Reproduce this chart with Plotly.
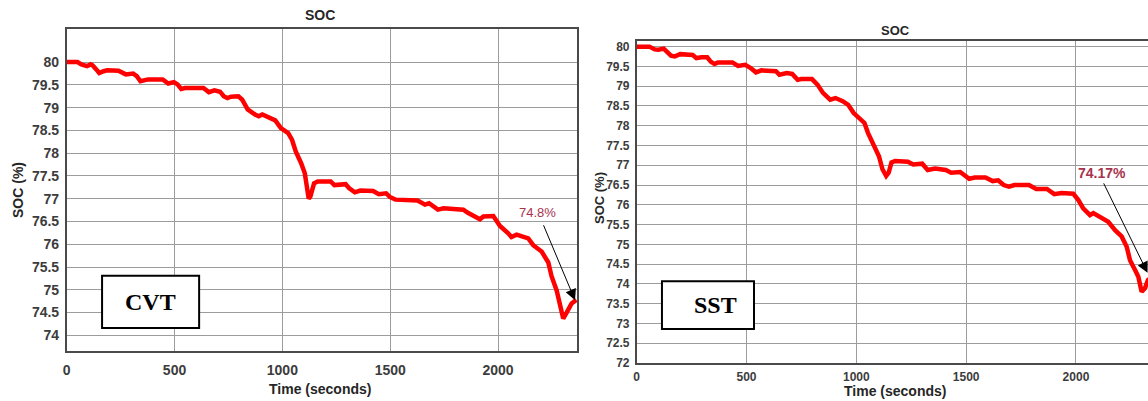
import plotly.graph_objects as go

# ---------------- data ----------------
t_cvt = [0, 50, 68, 94, 111, 120, 137, 151, 171, 188,
         240, 274, 308, 325, 342, 377, 445, 471, 497, 514,
         531, 548, 634, 659, 685, 711, 728, 745, 762, 796,
         813, 839, 873, 890, 907, 950, 967, 993, 1027, 1045,
         1062, 1087, 1104, 1122, 1130, 1147, 1164, 1224, 1241, 1293,
         1310, 1336, 1361, 1421, 1447, 1481, 1498, 1524, 1627, 1661,
         1680, 1721, 1747, 1839, 1860, 1916, 1932, 1978, 2009, 2047,
         2062, 2086, 2140, 2163, 2202, 2233, 2248, 2272, 2287, 2302,
         2318, 2341, 2363]
soc_cvt = [80.00, 80.00, 79.95, 79.91, 79.95, 79.93, 79.84, 79.76, 79.80, 79.82,
           79.81, 79.73, 79.75, 79.69, 79.58, 79.62, 79.62, 79.53, 79.56, 79.51,
           79.41, 79.43, 79.43, 79.34, 79.38, 79.35, 79.25, 79.21, 79.24, 79.25,
           79.18, 78.96, 78.85, 78.81, 78.85, 78.77, 78.72, 78.55, 78.44, 78.29,
           78.04, 77.78, 77.56, 77.00, 77.05, 77.34, 77.38, 77.38, 77.30, 77.32,
           77.23, 77.14, 77.18, 77.17, 77.10, 77.12, 77.04, 76.98, 76.96, 76.87,
           76.90, 76.76, 76.79, 76.76, 76.69, 76.55, 76.61, 76.62, 76.40, 76.24,
           76.16, 76.21, 76.13, 75.98, 75.84, 75.60, 75.30, 74.98, 74.64, 74.37,
           74.50, 74.70, 74.78]

t_sst = [0, 58, 82, 99, 123, 140, 156, 173, 198, 255,
         272, 296, 321, 337, 354, 370, 436, 461, 494, 519,
         543, 568, 634, 650, 683, 708, 733, 749, 798, 823,
         848, 881, 905, 938, 963, 988, 1012, 1037, 1053, 1078,
         1103, 1119, 1136, 1147, 1160, 1177, 1235, 1259, 1300, 1325,
         1358, 1407, 1432, 1473, 1514, 1539, 1588, 1621, 1646, 1671,
         1695, 1720, 1786, 1819, 1868, 1901, 1934, 1988, 2011, 2033,
         2064, 2079, 2109, 2147, 2178, 2208, 2231, 2246, 2269, 2284,
         2299, 2314, 2328, 2345]
soc_sst = [80.00, 80.00, 79.93, 79.92, 79.95, 79.87, 79.77, 79.75, 79.81, 79.79,
           79.71, 79.73, 79.73, 79.62, 79.56, 79.60, 79.60, 79.51, 79.54, 79.46,
           79.35, 79.40, 79.38, 79.29, 79.33, 79.31, 79.16, 79.18, 79.18, 79.04,
           78.83, 78.66, 78.70, 78.62, 78.53, 78.32, 78.20, 78.07, 77.82, 77.49,
           77.23, 76.90, 76.73, 76.81, 77.07, 77.11, 77.09, 77.02, 77.04, 76.88,
           76.92, 76.88, 76.81, 76.83, 76.66, 76.69, 76.69, 76.60, 76.62, 76.50,
           76.46, 76.50, 76.50, 76.40, 76.40, 76.27, 76.30, 76.28, 76.12, 75.91,
           75.74, 75.79, 75.70, 75.57, 75.36, 75.20, 74.94, 74.60, 74.35, 74.18,
           73.80, 73.89, 74.10, 74.17]

x_ticks = [0, 500, 1000, 1500, 2000]
y_ticks_cvt = [74 + 0.5 * i for i in range(13)]
y_ticks_sst = [72 + 0.5 * i for i in range(17)]

final_cvt_label = "74.8%"
final_sst_label = "74.17%"
panel_names = ["CVT", "SST"]
chart_title = "SOC"
x_title = "Time (seconds)"
y_title = "SOC (%)"

# ---------------- layout helpers ----------------
W, H = 1148, 401


def px(x):
    return x / W


def py(y):
    return 1 - y / H


def fmt(v):
    return ("%g" % v)


LINE_RED = "#ff0000"
GRID = "#9c9c9c"
AXIS = "#4a4a4a"
TICKC = "#3c3c3c"
LBL = "#A8324E"
SANS = "Liberation Sans, Arial"
SERIF = "Liberation Serif, Times New Roman"

fig = go.Figure()
fig.add_trace(go.Scatter(x=t_cvt, y=soc_cvt, mode="lines",
                         line=dict(color=LINE_RED, width=4.5),
                         xaxis="x", yaxis="y", showlegend=False))
fig.add_trace(go.Scatter(x=t_sst, y=soc_sst, mode="lines",
                         line=dict(color=LINE_RED, width=4.5),
                         xaxis="x2", yaxis="y2", showlegend=False))

common = dict(showline=True, linecolor=AXIS, linewidth=1.5, showgrid=True,
              gridcolor=GRID, gridwidth=1, zeroline=False, ticks="", automargin=False)

fig.update_layout(
    template="none",
    width=W, height=H, margin=dict(l=0, r=0, t=0, b=0, autoexpand=False),
    paper_bgcolor="white", plot_bgcolor="white",
    xaxis=dict(domain=[px(66.7), px(577)], range=[0, 2366],
               tickvals=x_ticks, ticktext=[fmt(v) for v in x_ticks],
               mirror=True, anchor="y", ticklabelstandoff=5,
               tickfont=dict(family=SANS, size=14, color=TICKC, weight="bold"),
               **common),
    yaxis=dict(domain=[py(351.3), py(29.3)], range=[73.65, 80.72],
               tickvals=y_ticks_cvt, ticktext=[fmt(v) for v in y_ticks_cvt],
               mirror=True, anchor="x", ticklabelstandoff=3,
               tickfont=dict(family=SANS, size=14, color=TICKC, weight="bold"),
               **common),
    xaxis2=dict(domain=[px(636.7), 1.0], range=[0, 2328],
                tickvals=x_ticks, ticktext=[fmt(v) for v in x_ticks],
                mirror=True, anchor="y2", ticklabelstandoff=2,
                tickfont=dict(family=SANS, size=12, color=TICKC, weight="bold"),
                **common),
    yaxis2=dict(domain=[py(363), py(40.7)], range=[72, 80.15],
                tickvals=y_ticks_sst, ticktext=[fmt(v) for v in y_ticks_sst],
                mirror=False, anchor="x2", ticklabelstandoff=3,
                tickfont=dict(family=SANS, size=12, color=TICKC, weight="bold"),
                **common),
)

# panel boxes
fig.add_shape(type="rect", xref="x", yref="y", x0=164, x1=614, y0=74.16, y1=75.31,
              line=dict(color="black", width=2), fillcolor="white", layer="above")
fig.add_shape(type="rect", xref="x2", yref="y2", x0=115, x1=534, y0=72.86, y1=74.07,
              line=dict(color="black", width=2), fillcolor="white", layer="above")

C = dict(xanchor="center", yanchor="middle")
ann = []
ann.append(dict(xref="x", yref="y", x=389, y=74.735, text=panel_names[0], showarrow=False,
                font=dict(family=SERIF, size=24, color="black", weight="bold"), **C))
ann.append(dict(xref="x2", yref="y2", x=361, y=73.47, text=panel_names[1], showarrow=False,
                font=dict(family=SERIF, size=24, color="black", weight="bold"), **C))

# arrows
ann.append(dict(xref="x", yref="y", axref="x", ayref="y", x=2357, y=74.77, ax=2208, ay=76.45,
                text="", showarrow=True, arrowhead=2, arrowsize=2.2, arrowwidth=1,
                arrowcolor="black", standoff=0))
ann.append(dict(xref="x2", yref="y2", axref="x2", ayref="y2", x=2326, y=74.28, ax=2123, ay=76.58,
                text="", showarrow=True, arrowhead=2, arrowsize=2.2, arrowwidth=1,
                arrowcolor="black", standoff=0))
ann.append(dict(xref="x", yref="y", x=2181, y=76.7, text=final_cvt_label, showarrow=False,
                font=dict(family=SANS, size=13, color=LBL), **C))
ann.append(dict(xref="x2", yref="y2", x=2119, y=76.81, text=final_sst_label, showarrow=False,
                font=dict(family=SANS, size=14, color=LBL, weight="bold"), **C))

# titles & axis titles
ann.append(dict(xref="paper", yref="paper", x=px(320), y=py(15), text=chart_title, showarrow=False,
                font=dict(family=SANS, size=14, color="#262626", weight="bold"), **C))
ann.append(dict(xref="paper", yref="paper", x=px(895), y=py(30), text=chart_title, showarrow=False,
                font=dict(family=SANS, size=13, color="#262626", weight="bold"), **C))
ann.append(dict(xref="paper", yref="paper", x=px(320), y=py(389), text=x_title, showarrow=False,
                font=dict(family=SANS, size=14, color="#262626", weight="bold"), **C))
ann.append(dict(xref="paper", yref="paper", x=px(895), y=py(391), text=x_title, showarrow=False,
                font=dict(family=SANS, size=14, color="#262626", weight="bold"), **C))
ann.append(dict(xref="paper", yref="paper", x=px(18), y=py(190), text=y_title, showarrow=False,
                textangle=-90, font=dict(family=SANS, size=14, color="#262626", weight="bold"), **C))
ann.append(dict(xref="paper", yref="paper", x=px(599), y=py(198), text=y_title, showarrow=False,
                textangle=-90, font=dict(family=SANS, size=13, color="#262626", weight="bold"), **C))

fig.update_layout(annotations=ann)
fig.write_html("out.html", config={"displayModeBar": False},
               post_script="document.body.style.margin='0';document.body.style.overflow='hidden';")
